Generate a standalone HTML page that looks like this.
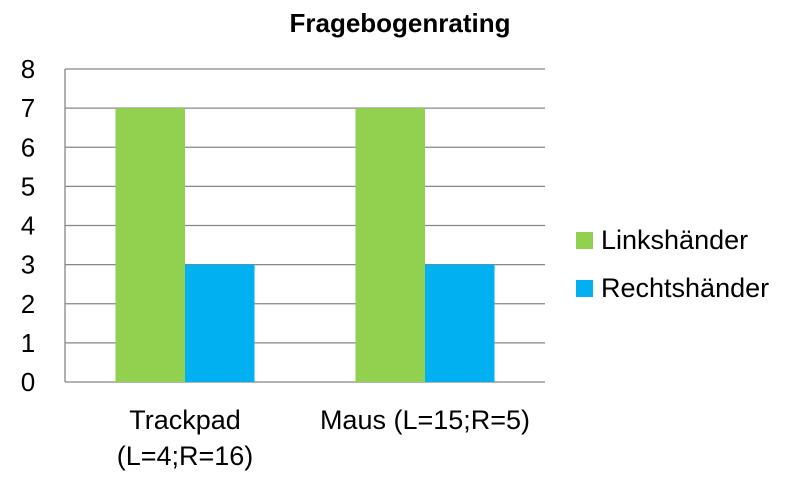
<!DOCTYPE html>
<html><head><meta charset="utf-8"><style>
body{margin:0;background:#fff;}
svg{display:block;font-family:"Liberation Sans",Calibri,sans-serif;}
</style></head><body>
<svg id="chart" width="798" height="479">
<text x="400" y="32" text-anchor="middle" font-size="26" font-weight="bold" fill="#000">Fragebogenrating</text>
<g id="grid"></g><g id="bars"></g><g id="labels"></g>
<g>
<rect x="576" y="232" width="17" height="17" fill="#92d050"/>
<text x="601" y="249" font-size="27" fill="#000">Linkshänder</text>
<rect x="576" y="280" width="17" height="17" fill="#00b0f0"/>
<text x="601" y="297" font-size="27" fill="#000">Rechtshänder</text>
</g>
</svg>
<script>
const categories=[["Trackpad","(L=4;R=16)"],["Maus (L=15;R=5)"]];
const linkshaender=[7,7];
const rechtshaender=[3,3];
const yTicks=[0,1,2,3,4,5,6,7,8];
const X0=65,X1=545,Y0=382,Y1=69,YMAX=8;
const y=v=>Y0-(Y0-Y1)*v/YMAX;
const catW=(X1-X0)/categories.length;
const ns="http://www.w3.org/2000/svg";
function mk(t,a,p){const e=document.createElementNS(ns,t);for(const k in a)e.setAttribute(k,a[k]);p.appendChild(e);return e;}
const grid=document.getElementById('grid'),bars=document.getElementById('bars'),labels=document.getElementById('labels');
yTicks.forEach(t=>{
 const l=mk('line',{x1:X0,x2:X1,y1:y(t),y2:y(t),stroke:'#868686','stroke-width':1.3},grid);
 
 
 const tx=mk('text',{x:28,y:y(t)+9,'text-anchor':'middle','font-size':26,fill:'#000'},labels);
 tx.textContent=t;
 
 
});
const ax=mk('line',{x1:X0,x2:X0,y1:Y1,y2:Y0,stroke:'#868686','stroke-width':1.3},grid);


categories.forEach((c,i)=>{
 const cx=X0+catW*(i+0.5);
 const bw=69.5;
 const g=mk('rect',{x:cx-bw,y:y(linkshaender[i]),width:bw,height:Y0-y(linkshaender[i]),fill:'#92d050'},bars);
 
 
 const b=mk('rect',{x:cx,y:y(rechtshaender[i]),width:bw,height:Y0-y(rechtshaender[i]),fill:'#00b0f0'},bars);
 
 
 c.forEach((line,j)=>{
  const t=mk('text',{x:cx,y:429+j*36,'text-anchor':'middle','font-size':27,fill:'#000'},labels);
  t.textContent=line;
  
  
 });
});
</script>
</body></html>
